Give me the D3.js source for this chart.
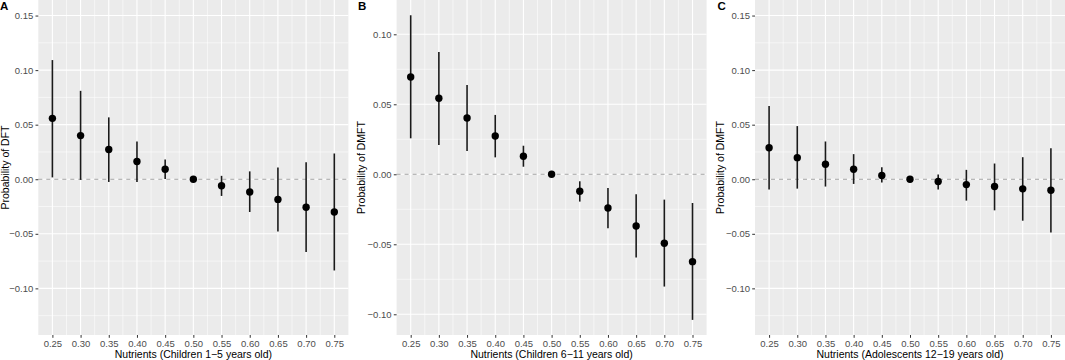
<!DOCTYPE html>
<html><head><meta charset="utf-8">
<script src="https://cdn.jsdelivr.net/npm/d3@7"></script>
<style>
html,body{margin:0;padding:0;background:#fff;}
svg{display:block;font-family:"Liberation Sans",Arial,sans-serif;}
</style></head>
<body><svg id="chart" width="1065" height="360"></svg>
<script>
const nutrients = [0.25,0.30,0.35,0.40,0.45,0.50,0.55,0.60,0.65,0.70,0.75];
const xTickLabels = ["0.25","0.30","0.35","0.40","0.45","0.50","0.55","0.60","0.65","0.70","0.75"];

const estA = [0.0558,0.0400,0.0272,0.0163,0.0092,0,-0.0060,-0.0117,-0.0185,-0.0257,-0.0300];
const lowA = [0.0017,-0.0006,-0.0025,-0.0025,0.0003,0,-0.0153,-0.0300,-0.0478,-0.0667,-0.0836];
const highA = [0.1092,0.0810,0.0567,0.0345,0.0180,0,0.0031,0.0072,0.0107,0.0156,0.0236];

const estB = [0.0695,0.0543,0.0402,0.0274,0.0129,0,-0.0121,-0.0241,-0.0369,-0.0493,-0.0624];
const lowB = [0.0257,0.0209,0.0166,0.0121,0.0054,0,-0.0195,-0.0386,-0.0595,-0.0802,-0.1040];
const highB = [0.1136,0.0874,0.0638,0.0424,0.0204,0,-0.0050,-0.0098,-0.0143,-0.0181,-0.0205];

const estC = [0.0288,0.0198,0.0138,0.0092,0.0034,0,-0.0021,-0.0049,-0.0067,-0.0088,-0.0101];
const lowC = [-0.0095,-0.0086,-0.0067,-0.0043,-0.0030,0,-0.0095,-0.0196,-0.0285,-0.0380,-0.0487];
const highC = [0.0670,0.0487,0.0346,0.0230,0.0110,0,0.0043,0.0086,0.0144,0.0202,0.0285];

const yTicksAC = [-0.10,-0.05,0.00,0.05,0.10,0.15];
const yTicksB = [-0.10,-0.05,0.00,0.05,0.10];

const panels = [
  {tag:"A", ytitle:"Probability of DFT", xtitle:"Nutrients (Children 1\u22125 years old)",
   est:estA, low:lowA, high:highA, yTicks:yTicksAC, ydom:[-0.14274,0.16425],
   left:38.3, right:348.4, tagX:0, ytitleX:9},
  {tag:"B", ytitle:"Probability of DMFT", xtitle:"Nutrients (Children 6\u221211 years old)",
   est:estB, low:lowB, high:highB, yTicks:yTicksB, ydom:[-0.1148,0.1245],
   left:396.6, right:706.6, tagX:358, ytitleX:365},
  {tag:"C", ytitle:"Probability of DMFT", xtitle:"Nutrients (Adolescents 12\u221219 years old)",
   est:estC, low:lowC, high:highC, yTicks:yTicksAC, ydom:[-0.14274,0.16425],
   left:755, right:1065, tagX:717.5, ytitleX:724}
];

const svg = d3.select("#chart");
const panelTop = 0, panelBottom = 335;
const fmt = v => (v < 0 ? "\u2212" : "") + Math.abs(v).toFixed(2);

panels.forEach(p => {
  const x = d3.scaleLinear().domain([0.225,0.775]).range([p.left,p.right]);
  const y = d3.scaleLinear().domain(p.ydom).range([panelBottom,panelTop]);
  const g = svg.append("g");
  g.append("rect").attr("x",p.left).attr("y",panelTop).attr("width",p.right-p.left).attr("height",panelBottom-panelTop).attr("fill","#EBEBEB");

  const yMinor = [];
  for (let i=0;i<p.yTicks.length+1;i++){
    const v = p.yTicks[0] - 0.025 + i*0.05;
    if (v>p.ydom[0] && v<p.ydom[1]) yMinor.push(v);
  }
  g.selectAll(".ymin").data(yMinor).enter().append("line")
    .attr("x1",p.left).attr("x2",p.right).attr("y1",d=>y(d)).attr("y2",d=>y(d))
    .attr("stroke","#fff").attr("stroke-width",0.55);
  const xMinor = nutrients.slice(0,-1).map(d=>d+0.025);
  g.selectAll(".xmin").data(xMinor).enter().append("line")
    .attr("y1",panelTop).attr("y2",panelBottom).attr("x1",d=>x(d)).attr("x2",d=>x(d))
    .attr("stroke","#fff").attr("stroke-width",0.55);
  g.selectAll(".ymaj").data(p.yTicks).enter().append("line")
    .attr("x1",p.left).attr("x2",p.right).attr("y1",d=>y(d)).attr("y2",d=>y(d))
    .attr("stroke","#fff").attr("stroke-width",1.1);
  g.selectAll(".xmaj").data(nutrients).enter().append("line")
    .attr("y1",panelTop).attr("y2",panelBottom).attr("x1",d=>x(d)).attr("x2",d=>x(d))
    .attr("stroke","#fff").attr("stroke-width",1.1);

  g.append("line").attr("x1",p.left).attr("x2",p.right).attr("y1",y(0)).attr("y2",y(0))
    .attr("stroke","#A3A3A3").attr("stroke-width",1.1).attr("stroke-dasharray","4,4");

  g.selectAll(".err").data(nutrients).enter().append("line")
    .attr("x1",d=>x(d)).attr("x2",d=>x(d))
    .attr("y1",(d,i)=>y(p.low[i])).attr("y2",(d,i)=>y(p.high[i]))
    .attr("stroke","#1a1a1a").attr("stroke-width",1.6);
  g.selectAll(".pt").data(nutrients).enter().append("circle")
    .attr("cx",d=>x(d)).attr("cy",(d,i)=>y(p.est[i])).attr("r",3.7).attr("fill","#000");

  const xAxis = d3.axisBottom(x).tickValues(nutrients).tickFormat((d,i)=>xTickLabels[i]).tickSize(2.8).tickPadding(2.5);
  const xa = g.append("g").attr("transform",`translate(0,${panelBottom})`).call(xAxis);
  const yAxis = d3.axisLeft(y).tickValues(p.yTicks).tickFormat(fmt).tickSize(2.8).tickPadding(2.2);
  const ya = g.append("g").attr("transform",`translate(${p.left},0)`).call(yAxis);
  [xa,ya].forEach(a=>{
    a.select(".domain").remove();
    a.selectAll(".tick line").attr("stroke","#333").attr("stroke-width",1);
    a.selectAll(".tick text").attr("fill","#4D4D4D").style("font-size","9.5px").style("font-family","'Liberation Sans',Arial,sans-serif");
  });

  g.append("text").attr("x",(p.left+p.right)/2).attr("y",358).attr("text-anchor","middle")
    .style("font-size","10.5px").attr("fill","#000").text(p.xtitle);
  g.append("text").attr("transform",`translate(${p.ytitleX},${(panelTop+panelBottom)/2}) rotate(-90)`)
    .attr("text-anchor","middle").style("font-size","10.5px").attr("fill","#000").text(p.ytitle);
  g.append("text").attr("x",p.tagX).attr("y",9.5).style("font-size","11.5px").style("font-weight","bold")
    .attr("fill","#000").text(p.tag);
});
</script></body></html>
